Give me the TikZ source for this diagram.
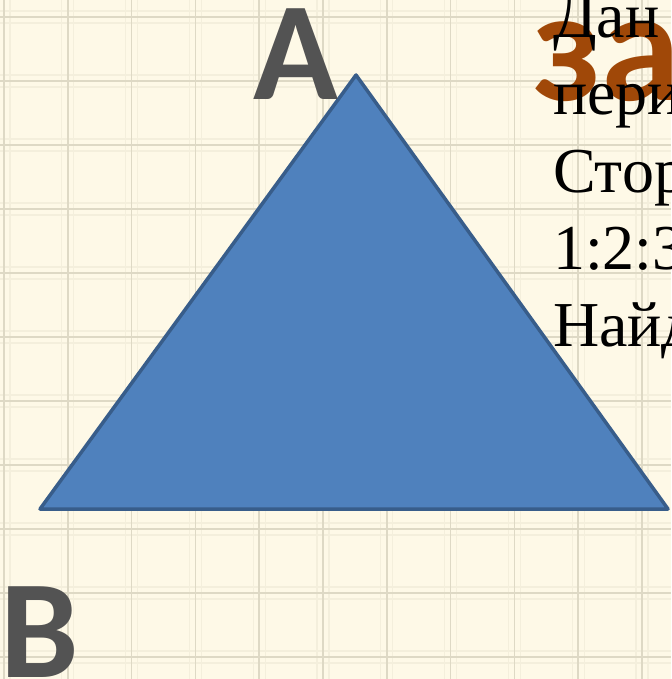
\documentclass[tikz,border=0pt]{standalone}
\usepackage{fontspec}
\setmainfont{Liberation Serif}
\newfontfamily\calib{Carlito}
\definecolor{bg}{RGB}{254,249,231}
\definecolor{gridmaj}{RGB}{222,217,197}
\definecolor{gridmin}{RGB}{244,239,220}
\definecolor{trifill}{RGB}{79,129,189}
\definecolor{triline}{RGB}{56,93,138}
\definecolor{lettergray}{RGB}{83,83,83}
\definecolor{titlebrown}{RGB}{160,72,8}
\begin{document}
\begin{tikzpicture}[x=1pt,y=-1pt,
  majline/.style={draw=gridmaj,line width=1.5pt},
  minline/.style={draw=gridmin,line width=1.2pt},
  bodytext/.style={anchor=base west,inner sep=0pt,outer sep=0pt,font=\fontsize{64}{77}\selectfont,text=black},
  bigletter/.style={anchor=base west,inner sep=0pt,outer sep=0pt,font=\calib\bfseries\fontsize{140}{150}\selectfont,text=lettergray},
  titletext/.style={anchor=base west,inner sep=0pt,outer sep=0pt,font=\calib\bfseries\fontsize{160}{170}\selectfont,text=titlebrown},
  tri/.style={fill=trifill,draw=triline,line width=3.5pt,line join=round}]
\useasboundingbox (0,0) rectangle (671,679);
\clip (0,0) rectangle (671,679);
\fill[bg] (0,0) rectangle (671,679);
% grid
\foreach \i in {0,...,10} {
  \draw[minline] ({4+63.8*\i-6},0) -- ({4+63.8*\i-6},679);
  \draw[minline] ({4+63.8*\i+6},0) -- ({4+63.8*\i+6},679);
  \draw[minline] (0,{17+64*\i-6}) -- (671,{17+64*\i-6});
  \draw[minline] (0,{17+64*\i+6}) -- (671,{17+64*\i+6});
}
\foreach \i in {0,...,10} {
  \draw[majline] ({4+63.8*\i},0) -- ({4+63.8*\i},679);
  \draw[majline] (0,{17+64*\i}) -- (671,{17+64*\i});
}
% title (partially hidden)
\node[titletext] (title) at (533,101) {за};
% triangle
\coordinate (pA) at (356,75);
\coordinate (pB) at (40,509);
\coordinate (pC) at (668,509);
\path[tri] (pA) -- (pB) -- (pC) -- cycle;
% text
\node[bodytext] (t1) at (553,38) {Дан};
\node[bodytext] (t2) at (553,115) {пери};
\node[bodytext] (t3) at (553,192) {Стор};
\node[bodytext] (t4) at (553,269) {1:2:3};
\node[bodytext] (t5) at (553,346) {Найд};
% vertex letters
\node[bigletter] (lA) at (253,100) {A};
\node[bigletter] (lB) at (0,677) {B};
\end{tikzpicture}
\end{document}
